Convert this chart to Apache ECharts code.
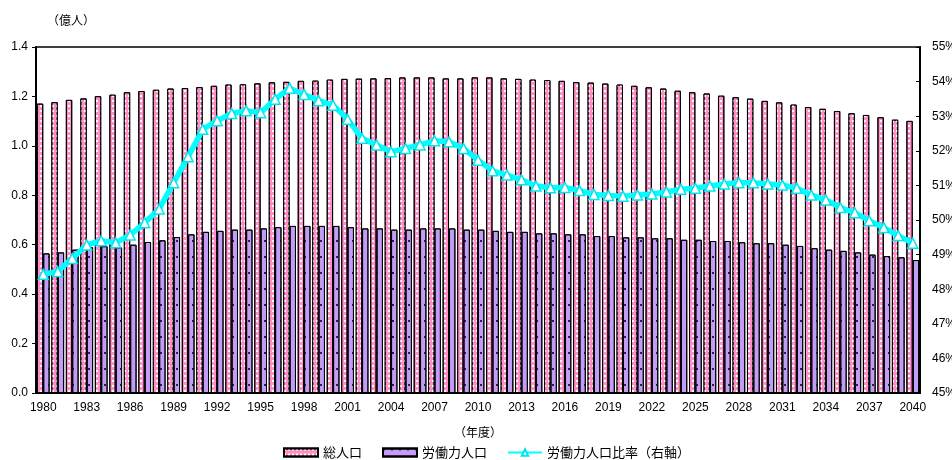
<!DOCTYPE html>
<html>
<head>
<meta charset="utf-8">
<script src="https://cdn.jsdelivr.net/npm/echarts@6/dist/echarts.min.js"></script>
<style>
  html, body { margin: 0; padding: 0; background: #fff; }
  #chart { width: 952px; height: 460px; }
</style>
</head>
<body>
<div id="chart"></div>
<script>
// Fiscal years 1980–2040
const years = [];
for (let y = 1980; y <= 2040; y++) years.push(String(y));

// 総人口 (億人)
const totalPop = [
  1.171, 1.177, 1.186, 1.192, 1.201, 1.207, 1.217, 1.222, 1.227, 1.232,
  1.234, 1.238, 1.243, 1.248, 1.249, 1.253, 1.257, 1.259, 1.263, 1.264,
  1.268, 1.271, 1.272, 1.273, 1.274, 1.277, 1.277, 1.277, 1.273, 1.273,
  1.277, 1.277, 1.273, 1.271, 1.268, 1.266, 1.263, 1.258, 1.256, 1.252,
  1.248, 1.243, 1.237, 1.232, 1.223, 1.217, 1.212, 1.203, 1.197, 1.191,
  1.182, 1.176, 1.167, 1.157, 1.150, 1.141, 1.132, 1.125, 1.116, 1.106,
  1.101
];

// 労働力人口 (億人)
const laborPop = [
  0.565, 0.569, 0.580, 0.590, 0.594, 0.589, 0.600, 0.611, 0.618, 0.631,
  0.642, 0.652, 0.656, 0.661, 0.661, 0.666, 0.671, 0.676, 0.676, 0.676,
  0.676, 0.671, 0.666, 0.666, 0.661, 0.661, 0.666, 0.666, 0.666, 0.661,
  0.661, 0.656, 0.652, 0.652, 0.646, 0.646, 0.642, 0.642, 0.635, 0.635,
  0.630, 0.630, 0.626, 0.626, 0.620, 0.620, 0.615, 0.615, 0.610, 0.606,
  0.606, 0.600, 0.595, 0.586, 0.580, 0.575, 0.569, 0.560, 0.554, 0.549,
  0.538
];

// 労働力人口比率 (%)
const laborRatio = [
  48.43, 48.51, 48.89, 49.28, 49.40, 49.34, 49.57, 49.92, 50.32, 51.08,
  51.83, 52.62, 52.87, 53.08, 53.16, 53.10, 53.49, 53.81, 53.63, 53.45,
  53.32, 52.91, 52.36, 52.17, 51.97, 52.07, 52.17, 52.29, 52.26, 52.07,
  51.73, 51.42, 51.30, 51.16, 50.98, 50.93, 50.94, 50.85, 50.74, 50.71,
  50.69, 50.72, 50.75, 50.81, 50.89, 50.92, 50.98, 51.04, 51.08, 51.08,
  51.04, 51.01, 50.92, 50.72, 50.58, 50.36, 50.21, 49.98, 49.78, 49.55,
  49.33
];

const leftTicks = [0, 1.4, 0.2];   // min, max, interval
const rightTicks = [45, 55, 1];    // min, max, interval (%)

const numFont = 'Liberation Sans, Arial, Noto Sans CJK JP, sans-serif';
const jpFont = 'Noto Sans CJK JP, sans-serif';

const chart = echarts.init(document.getElementById('chart'), null, { renderer: 'canvas' });

chart.setOption({
  animation: false,
  backgroundColor: '#ffffff',
  title: {
    text: '（億人）',
    left: 42,
    top: 9,
    textStyle: { fontFamily: jpFont, fontSize: 12, fontWeight: 'normal', color: '#000' }
  },
  grid: {
    left: 36, right: 32, top: 47, bottom: 67,
    outerBoundsMode: 'none',
    containLabel: false,
    show: true, borderColor: '#000', borderWidth: 1.5, backgroundColor: 'transparent'
  },
  legend: {
    left: 278,
    top: 441,
    itemGap: 20,
    itemWidth: 34,
    itemHeight: 8,
    textStyle: { fontFamily: jpFont, fontSize: 13, color: '#000' },
    data: [
      { name: '総人口', icon: 'rect' },
      { name: '労働力人口', icon: 'rect' },
      { name: '労働力人口比率（右軸）' }
    ]
  },
  xAxis: {
    type: 'category',
    data: years,
    boundaryGap: true,
    name: '（年度）',
    nameLocation: 'middle',
    nameGap: 33,
    nameTextStyle: { fontFamily: jpFont, fontSize: 12, color: '#000' },
    axisLine: { lineStyle: { color: '#000', width: 2 } },
    axisTick: { show: false },
    axisLabel: { interval: 2, margin: 9, fontFamily: numFont, fontSize: 12, color: '#000' }
  },
  yAxis: [
    {
      type: 'value',
      min: leftTicks[0], max: leftTicks[1], interval: leftTicks[2],
      splitLine: { show: false },
      axisLine: { show: true, lineStyle: { color: '#000', width: 2 } },
      axisTick: { show: true, inside: false, length: 4, lineStyle: { color: '#000' } },
      axisLabel: {
        margin: 8, fontFamily: numFont, fontSize: 12, color: '#000',
        formatter: v => v.toFixed(1)
      }
    },
    {
      type: 'value',
      min: rightTicks[0], max: rightTicks[1], interval: rightTicks[2],
      position: 'right',
      splitLine: { show: false },
      axisLine: { show: true, lineStyle: { color: '#000', width: 2 } },
      axisTick: { show: true, inside: true, length: 4, lineStyle: { color: '#000' } },
      axisLabel: { margin: 12, fontFamily: numFont, fontSize: 12, color: '#000', formatter: '{value}%' }
    }
  ],
  series: [
    {
      name: '総人口',
      type: 'bar',
      yAxisIndex: 0,
      data: totalPop,
      barGap: '0%',
      barCategoryGap: '12%',
      itemStyle: {
        color: '#ff8fc6',
        borderColor: '#000',
        borderWidth: 1,
        decal: {
          symbol: 'rect',
          color: '#ffffff',
          symbolSize: 1,
          dashArrayX: [2, 2],
          dashArrayY: [2, 3],
          rotation: 0
        }
      },
      z: 2
    },
    {
      name: '労働力人口',
      type: 'bar',
      yAxisIndex: 0,
      data: laborPop,
      barGap: '0%',
      barCategoryGap: '12%',
      itemStyle: {
        color: '#c39cf8',
        borderColor: '#000',
        borderWidth: 1,
        decal: {
          symbol: 'rect',
          color: '#2a2040',
          symbolSize: 1,
          dashArrayX: [1.5, 6],
          dashArrayY: [1.5, 14],
          rotation: 0
        }
      },
      z: 2
    },
    {
      name: '労働力人口比率（右軸）',
      type: 'line',
      yAxisIndex: 1,
      data: laborRatio,
      symbol: 'triangle',
      symbolSize: 10,
      showAllSymbol: true,
      lineStyle: { color: '#00ffff', width: 5.5 },
      itemStyle: { color: '#ffffff', borderColor: '#00e5f0', borderWidth: 1.5 },
      z: 5
    }
  ]
});
</script>
</body>
</html>
